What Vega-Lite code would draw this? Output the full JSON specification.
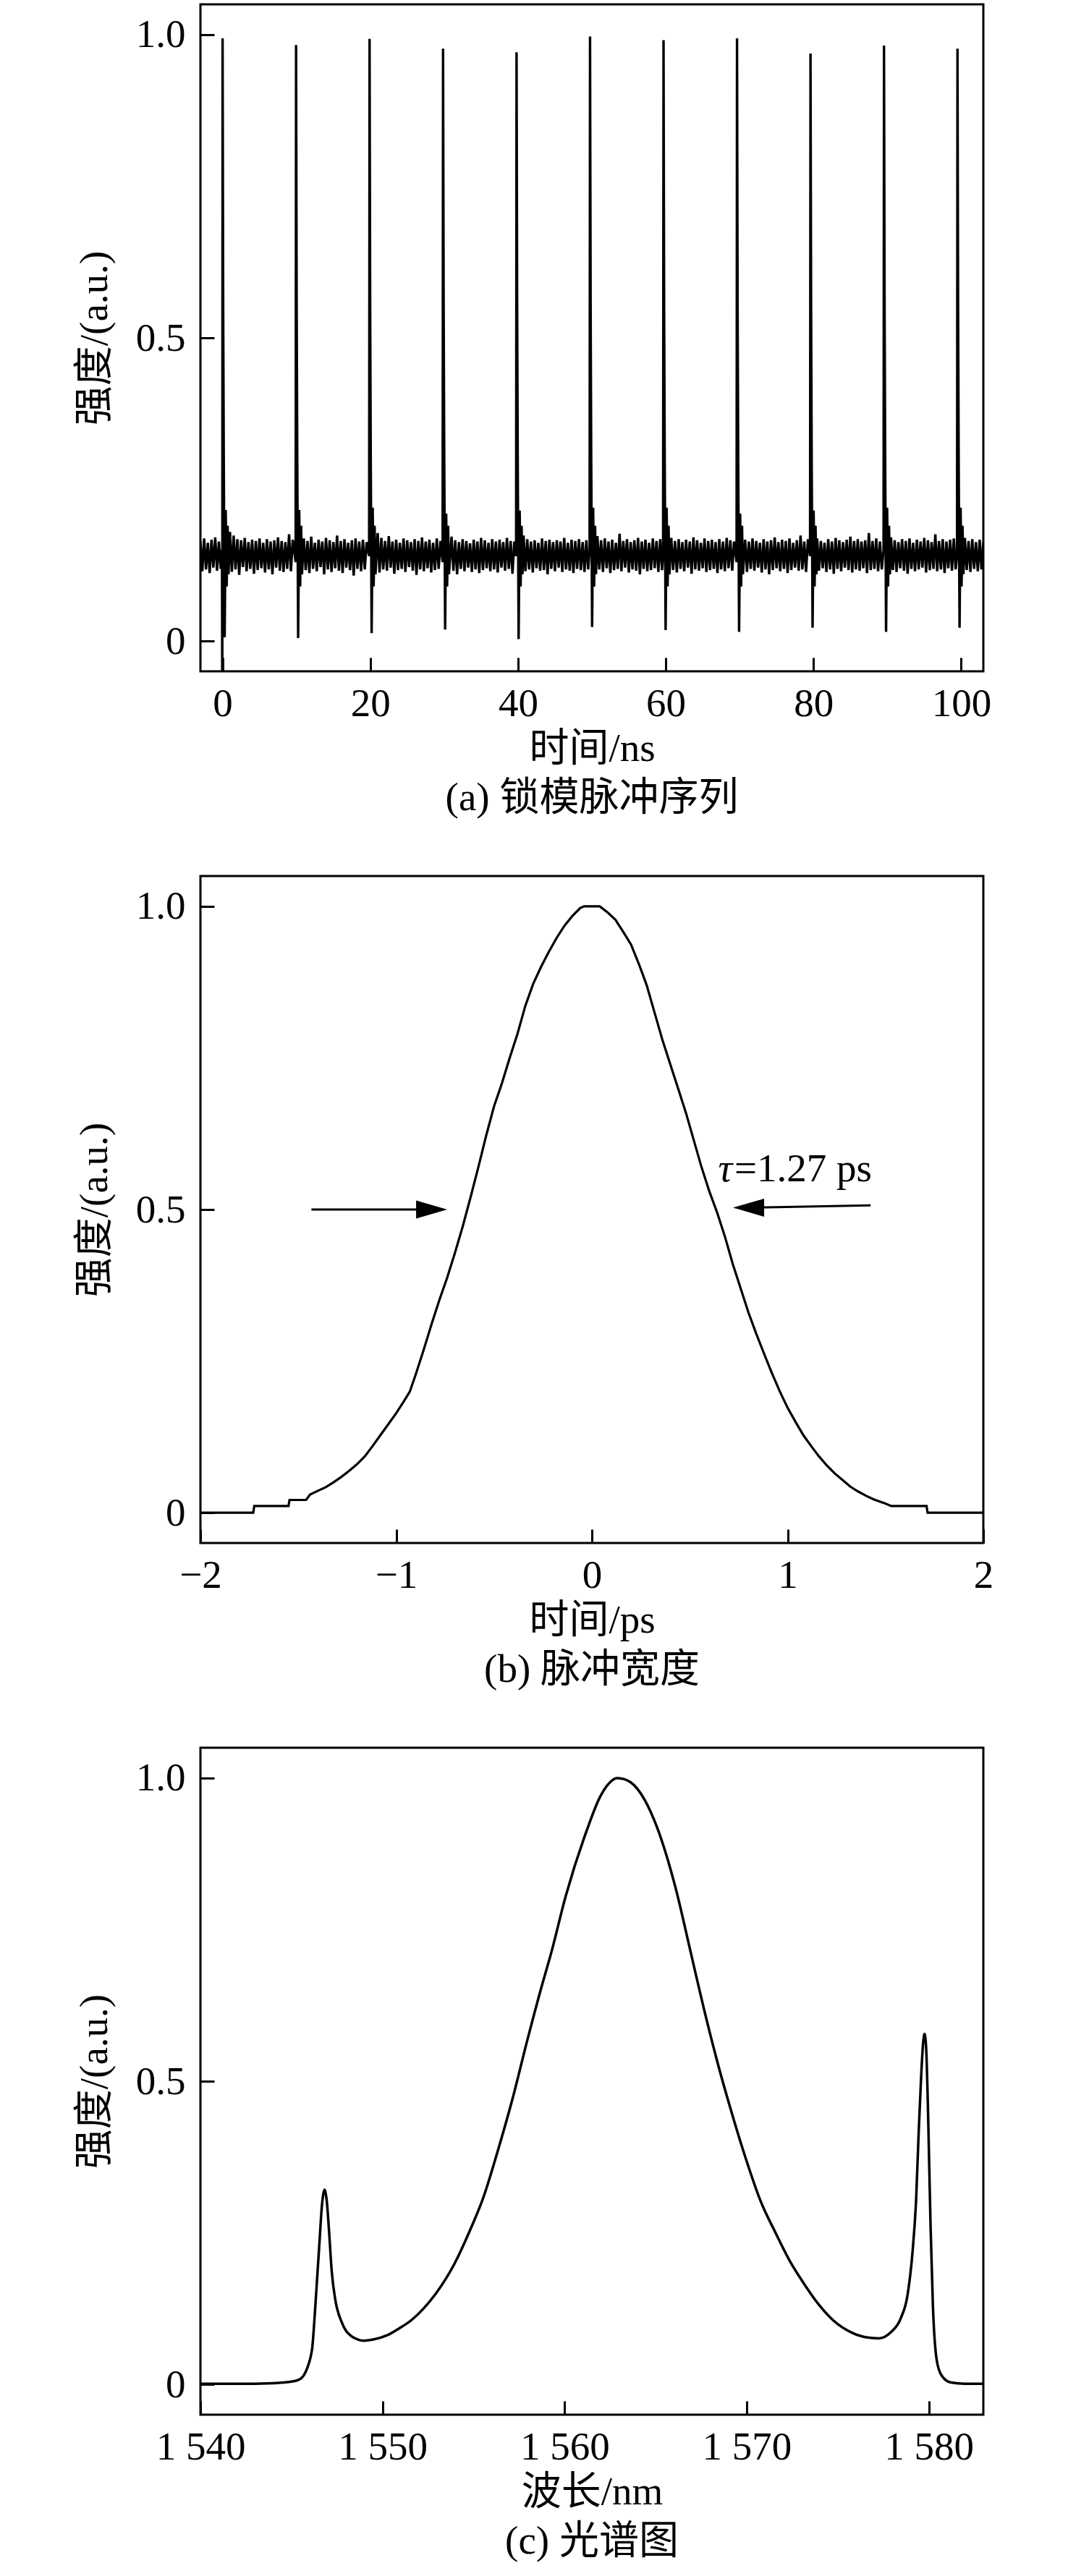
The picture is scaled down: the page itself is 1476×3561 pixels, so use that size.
{
  "$schema": "https://vega.github.io/schema/vega-lite/v6.json",
  "background": "white",
  "padding": {"left": 101, "top": 4, "right": 0, "bottom": 0},
  "spacing": 76,
  "config": {
    "font": "Liberation Serif, Noto Sans CJK SC",
    "view": {"stroke": "black", "strokeWidth": 3},
    "axis": {
      "grid": false, "domain": false,
      "tickColor": "black", "tickWidth": 3, "tickSize": -19,
      "labelFont": "Liberation Serif", "labelFontSize": 55, "labelColor": "black",
      "labelFlush": false, "labelOverlap": false,
      "titleFont": "Liberation Serif, Noto Sans CJK SC", "titleFontSize": 55,
      "titleFontWeight": "normal", "titleColor": "black"
    },
    "axisX": {"labelPadding": 37, "titlePadding": 8},
    "axisY": {"labelPadding": 40, "titlePadding": 28},
    "title": {"font": "Liberation Serif, Noto Sans CJK SC", "fontSize": 55, "fontWeight": "normal", "color": "black", "orient": "bottom", "offset": 15},
    "line": {"color": "black", "strokeWidth": 3.5}
  },
  "datasets": {
    "train": [
      {"t":-3,"v":0.165},{"t":-2.75,"v":0.115},{"t":-2.5,"v":0.169},{"t":-2.25,"v":0.118},{"t":-2,"v":0.162},{"t":-1.75,"v":0.112},{"t":-1.5,"v":0.167},{"t":-1.25,"v":0.121},{"t":-1,"v":0.171},{"t":-0.75,"v":0.116},{"t":-0.5,"v":0.164},{"t":-0.25,"v":0.119},
      {"t":-0.08,"v":0.15},{"t":-0.04,"v":-0.1},{"t":0,"v":0.994},{"t":0.08,"v":0.55},{"t":0.16,"v":0.3},{"t":0.28,"v":0.006},{"t":0.42,"v":0.216},{"t":0.55,"v":0.09},{"t":0.68,"v":0.19},{"t":0.8,"v":0.11},
      {"t":1,"v":0.18},{"t":1.25,"v":0.114},{"t":1.5,"v":0.174},{"t":1.75,"v":0.118},{"t":2,"v":0.168},{"t":2.25,"v":0.109},{"t":2.5,"v":0.166},{"t":2.75,"v":0.122},{"t":3,"v":0.17},{"t":3.25,"v":0.115},{"t":3.5,"v":0.163},{"t":3.75,"v":0.119},{"t":4,"v":0.167},{"t":4.25,"v":0.111},{"t":4.5,"v":0.165},{"t":4.75,"v":0.117},{"t":5,"v":0.169},{"t":5.25,"v":0.12},{"t":5.5,"v":0.162},{"t":5.75,"v":0.113},{"t":6,"v":0.168},{"t":6.25,"v":0.118},{"t":6.5,"v":0.164},{"t":6.75,"v":0.11},{"t":7,"v":0.166},{"t":7.25,"v":0.121},{"t":7.5,"v":0.171},{"t":7.75,"v":0.116},{"t":8,"v":0.165},{"t":8.25,"v":0.114},{"t":8.5,"v":0.163},{"t":8.75,"v":0.119},{"t":9,"v":0.176},{"t":9.25,"v":0.115},{"t":9.5,"v":0.167},
      {"t":9.89,"v":0.13},{"t":9.95,"v":0.983},{"t":10.03,"v":0.55},{"t":10.11,"v":0.3},{"t":10.23,"v":0.005},{"t":10.37,"v":0.216},{"t":10.5,"v":0.09},{"t":10.63,"v":0.19},{"t":10.75,"v":0.11},
      {"t":11,"v":0.169},{"t":11.25,"v":0.117},{"t":11.5,"v":0.165},{"t":11.75,"v":0.112},{"t":12,"v":0.172},{"t":12.25,"v":0.119},{"t":12.5,"v":0.162},{"t":12.75,"v":0.115},{"t":13,"v":0.167},{"t":13.25,"v":0.122},{"t":13.5,"v":0.164},{"t":13.75,"v":0.11},{"t":14,"v":0.17},{"t":14.25,"v":0.118},{"t":14.5,"v":0.166},{"t":14.75,"v":0.114},{"t":15,"v":0.163},{"t":15.25,"v":0.12},{"t":15.5,"v":0.174},{"t":15.75,"v":0.116},{"t":16,"v":0.165},{"t":16.25,"v":0.112},{"t":16.5,"v":0.168},{"t":16.75,"v":0.121},{"t":17,"v":0.162},{"t":17.25,"v":0.117},{"t":17.5,"v":0.166},{"t":17.75,"v":0.108},{"t":18,"v":0.169},{"t":18.25,"v":0.119},{"t":18.5,"v":0.164},{"t":18.75,"v":0.115},{"t":19,"v":0.167},{"t":19.25,"v":0.118},{"t":19.5,"v":0.163},
      {"t":19.84,"v":0.14},{"t":19.9,"v":0.993},{"t":19.98,"v":0.55},{"t":20.06,"v":0.3},{"t":20.18,"v":0.013},{"t":20.32,"v":0.22},{"t":20.45,"v":0.09},{"t":20.58,"v":0.19},{"t":20.7,"v":0.11},
      {"t":21,"v":0.178},{"t":21.25,"v":0.113},{"t":21.5,"v":0.17},{"t":21.75,"v":0.118},{"t":22,"v":0.165},{"t":22.25,"v":0.116},{"t":22.5,"v":0.173},{"t":22.75,"v":0.121},{"t":23,"v":0.164},{"t":23.25,"v":0.111},{"t":23.5,"v":0.167},{"t":23.75,"v":0.117},{"t":24,"v":0.162},{"t":24.25,"v":0.119},{"t":24.5,"v":0.169},{"t":24.75,"v":0.114},{"t":25,"v":0.166},{"t":25.25,"v":0.122},{"t":25.5,"v":0.163},{"t":25.75,"v":0.116},{"t":26,"v":0.168},{"t":26.25,"v":0.109},{"t":26.5,"v":0.165},{"t":26.75,"v":0.118},{"t":27,"v":0.171},{"t":27.25,"v":0.115},{"t":27.5,"v":0.164},{"t":27.75,"v":0.12},{"t":28,"v":0.167},{"t":28.25,"v":0.113},{"t":28.5,"v":0.162},{"t":28.75,"v":0.117},{"t":29,"v":0.169},{"t":29.25,"v":0.119},{"t":29.5,"v":0.165},
      {"t":29.79,"v":0.13},{"t":29.85,"v":0.977},{"t":29.93,"v":0.55},{"t":30.01,"v":0.3},{"t":30.13,"v":0.019},{"t":30.27,"v":0.21},{"t":30.4,"v":0.09},{"t":30.53,"v":0.19},{"t":30.65,"v":0.11},
      {"t":31,"v":0.172},{"t":31.25,"v":0.116},{"t":31.5,"v":0.166},{"t":31.75,"v":0.11},{"t":32,"v":0.163},{"t":32.25,"v":0.119},{"t":32.5,"v":0.168},{"t":32.75,"v":0.115},{"t":33,"v":0.165},{"t":33.25,"v":0.121},{"t":33.5,"v":0.161},{"t":33.75,"v":0.114},{"t":34,"v":0.167},{"t":34.25,"v":0.118},{"t":34.5,"v":0.164},{"t":34.75,"v":0.112},{"t":35,"v":0.17},{"t":35.25,"v":0.117},{"t":35.5,"v":0.166},{"t":35.75,"v":0.12},{"t":36,"v":0.162},{"t":36.25,"v":0.115},{"t":36.5,"v":0.168},{"t":36.75,"v":0.118},{"t":37,"v":0.164},{"t":37.25,"v":0.113},{"t":37.5,"v":0.167},{"t":37.75,"v":0.121},{"t":38,"v":0.163},{"t":38.25,"v":0.116},{"t":38.5,"v":0.17},{"t":38.75,"v":0.119},{"t":39,"v":0.165},{"t":39.25,"v":0.111},{"t":39.5,"v":0.164},
      {"t":39.74,"v":0.14},{"t":39.8,"v":0.971},{"t":39.88,"v":0.55},{"t":39.96,"v":0.3},{"t":40.08,"v":0.003},{"t":40.22,"v":0.215},{"t":40.35,"v":0.09},{"t":40.48,"v":0.19},{"t":40.6,"v":0.11},
      {"t":40.75,"v":0.174},{"t":41,"v":0.115},{"t":41.25,"v":0.168},{"t":41.5,"v":0.118},{"t":41.75,"v":0.164},{"t":42,"v":0.113},{"t":42.25,"v":0.166},{"t":42.5,"v":0.12},{"t":42.75,"v":0.162},{"t":43,"v":0.116},{"t":43.25,"v":0.169},{"t":43.5,"v":0.117},{"t":43.75,"v":0.165},{"t":44,"v":0.11},{"t":44.25,"v":0.167},{"t":44.5,"v":0.119},{"t":44.75,"v":0.163},{"t":45,"v":0.115},{"t":45.25,"v":0.166},{"t":45.5,"v":0.121},{"t":45.75,"v":0.164},{"t":46,"v":0.114},{"t":46.25,"v":0.17},{"t":46.5,"v":0.118},{"t":46.75,"v":0.162},{"t":47,"v":0.116},{"t":47.25,"v":0.167},{"t":47.5,"v":0.112},{"t":47.75,"v":0.165},{"t":48,"v":0.119},{"t":48.25,"v":0.168},{"t":48.5,"v":0.117},{"t":48.75,"v":0.163},{"t":49,"v":0.114},{"t":49.25,"v":0.166},{"t":49.5,"v":0.118},
      {"t":49.69,"v":0.15},{"t":49.75,"v":0.997},{"t":49.83,"v":0.55},{"t":49.91,"v":0.3},{"t":50.03,"v":0.023},{"t":50.17,"v":0.22},{"t":50.3,"v":0.09},{"t":50.43,"v":0.19},{"t":50.55,"v":0.11},
      {"t":50.75,"v":0.173},{"t":51,"v":0.118},{"t":51.25,"v":0.166},{"t":51.5,"v":0.114},{"t":51.75,"v":0.169},{"t":52,"v":0.12},{"t":52.25,"v":0.164},{"t":52.5,"v":0.112},{"t":52.75,"v":0.167},{"t":53,"v":0.117},{"t":53.25,"v":0.162},{"t":53.5,"v":0.119},{"t":53.75,"v":0.177},{"t":54,"v":0.115},{"t":54.25,"v":0.165},{"t":54.5,"v":0.121},{"t":54.75,"v":0.168},{"t":55,"v":0.113},{"t":55.25,"v":0.163},{"t":55.5,"v":0.118},{"t":55.75,"v":0.166},{"t":56,"v":0.116},{"t":56.25,"v":0.17},{"t":56.5,"v":0.11},{"t":56.75,"v":0.164},{"t":57,"v":0.119},{"t":57.25,"v":0.167},{"t":57.5,"v":0.115},{"t":57.75,"v":0.162},{"t":58,"v":0.117},{"t":58.25,"v":0.169},{"t":58.5,"v":0.12},{"t":58.75,"v":0.165},{"t":59,"v":0.114},{"t":59.25,"v":0.168},{"t":59.5,"v":0.117},
      {"t":59.64,"v":0.14},{"t":59.7,"v":0.991},{"t":59.78,"v":0.55},{"t":59.86,"v":0.3},{"t":59.98,"v":0.018},{"t":60.12,"v":0.22},{"t":60.25,"v":0.09},{"t":60.38,"v":0.19},{"t":60.5,"v":0.11},
      {"t":60.75,"v":0.17},{"t":61,"v":0.117},{"t":61.25,"v":0.165},{"t":61.5,"v":0.113},{"t":61.75,"v":0.168},{"t":62,"v":0.119},{"t":62.25,"v":0.163},{"t":62.5,"v":0.115},{"t":62.75,"v":0.167},{"t":63,"v":0.121},{"t":63.25,"v":0.164},{"t":63.5,"v":0.111},{"t":63.75,"v":0.171},{"t":64,"v":0.118},{"t":64.25,"v":0.166},{"t":64.5,"v":0.116},{"t":64.75,"v":0.162},{"t":65,"v":0.12},{"t":65.25,"v":0.169},{"t":65.5,"v":0.114},{"t":65.75,"v":0.165},{"t":66,"v":0.117},{"t":66.25,"v":0.167},{"t":66.5,"v":0.119},{"t":66.75,"v":0.163},{"t":67,"v":0.112},{"t":67.25,"v":0.168},{"t":67.5,"v":0.118},{"t":67.75,"v":0.164},{"t":68,"v":0.115},{"t":68.25,"v":0.17},{"t":68.5,"v":0.12},{"t":68.75,"v":0.166},{"t":69,"v":0.116},{"t":69.25,"v":0.164},
      {"t":69.59,"v":0.13},{"t":69.65,"v":0.994},{"t":69.73,"v":0.55},{"t":69.81,"v":0.3},{"t":69.93,"v":0.015},{"t":70.07,"v":0.21},{"t":70.2,"v":0.09},{"t":70.33,"v":0.19},{"t":70.45,"v":0.11},
      {"t":70.75,"v":0.167},{"t":71,"v":0.114},{"t":71.25,"v":0.164},{"t":71.5,"v":0.119},{"t":71.75,"v":0.169},{"t":72,"v":0.116},{"t":72.25,"v":0.165},{"t":72.5,"v":0.121},{"t":72.75,"v":0.162},{"t":73,"v":0.113},{"t":73.25,"v":0.168},{"t":73.5,"v":0.118},{"t":73.75,"v":0.164},{"t":74,"v":0.11},{"t":74.25,"v":0.166},{"t":74.5,"v":0.117},{"t":74.75,"v":0.171},{"t":75,"v":0.12},{"t":75.25,"v":0.163},{"t":75.5,"v":0.115},{"t":75.75,"v":0.167},{"t":76,"v":0.119},{"t":76.25,"v":0.165},{"t":76.5,"v":0.112},{"t":76.75,"v":0.169},{"t":77,"v":0.117},{"t":77.25,"v":0.162},{"t":77.5,"v":0.121},{"t":77.75,"v":0.166},{"t":78,"v":0.116},{"t":78.25,"v":0.174},{"t":78.5,"v":0.118},{"t":78.75,"v":0.164},{"t":79,"v":0.114},{"t":79.25,"v":0.168},
      {"t":79.54,"v":0.14},{"t":79.6,"v":0.969},{"t":79.68,"v":0.55},{"t":79.76,"v":0.3},{"t":79.88,"v":0.022},{"t":80.02,"v":0.215},{"t":80.15,"v":0.09},{"t":80.28,"v":0.19},{"t":80.4,"v":0.11},
      {"t":80.5,"v":0.169},{"t":80.75,"v":0.116},{"t":81,"v":0.165},{"t":81.25,"v":0.12},{"t":81.5,"v":0.162},{"t":81.75,"v":0.114},{"t":82,"v":0.168},{"t":82.25,"v":0.118},{"t":82.5,"v":0.164},{"t":82.75,"v":0.111},{"t":83,"v":0.17},{"t":83.25,"v":0.119},{"t":83.5,"v":0.166},{"t":83.75,"v":0.115},{"t":84,"v":0.163},{"t":84.25,"v":0.121},{"t":84.5,"v":0.167},{"t":84.75,"v":0.117},{"t":85,"v":0.172},{"t":85.25,"v":0.113},{"t":85.5,"v":0.165},{"t":85.75,"v":0.118},{"t":86,"v":0.168},{"t":86.25,"v":0.116},{"t":86.5,"v":0.164},{"t":86.75,"v":0.12},{"t":87,"v":0.166},{"t":87.25,"v":0.112},{"t":87.5,"v":0.178},{"t":87.75,"v":0.117},{"t":88,"v":0.165},{"t":88.25,"v":0.119},{"t":88.5,"v":0.169},{"t":88.75,"v":0.115},{"t":89,"v":0.164},{"t":89.25,"v":0.118},
      {"t":89.49,"v":0.15},{"t":89.55,"v":0.982},{"t":89.63,"v":0.55},{"t":89.71,"v":0.3},{"t":89.83,"v":0.015},{"t":89.97,"v":0.22},{"t":90.1,"v":0.09},{"t":90.23,"v":0.19},{"t":90.35,"v":0.11},
      {"t":90.5,"v":0.171},{"t":90.75,"v":0.117},{"t":91,"v":0.166},{"t":91.25,"v":0.114},{"t":91.5,"v":0.163},{"t":91.75,"v":0.12},{"t":92,"v":0.168},{"t":92.25,"v":0.116},{"t":92.5,"v":0.165},{"t":92.75,"v":0.111},{"t":93,"v":0.169},{"t":93.25,"v":0.119},{"t":93.5,"v":0.162},{"t":93.75,"v":0.115},{"t":94,"v":0.167},{"t":94.25,"v":0.118},{"t":94.5,"v":0.164},{"t":94.75,"v":0.121},{"t":95,"v":0.17},{"t":95.25,"v":0.113},{"t":95.5,"v":0.166},{"t":95.75,"v":0.117},{"t":96,"v":0.163},{"t":96.25,"v":0.119},{"t":96.5,"v":0.176},{"t":96.75,"v":0.115},{"t":97,"v":0.165},{"t":97.25,"v":0.118},{"t":97.5,"v":0.168},{"t":97.75,"v":0.112},{"t":98,"v":0.164},{"t":98.25,"v":0.12},{"t":98.5,"v":0.167},{"t":98.75,"v":0.116},{"t":99,"v":0.169},{"t":99.25,"v":0.118},
      {"t":99.44,"v":0.14},{"t":99.5,"v":0.977},{"t":99.58,"v":0.55},{"t":99.66,"v":0.3},{"t":99.78,"v":0.022},{"t":99.92,"v":0.22},{"t":100.05,"v":0.09},{"t":100.18,"v":0.19},{"t":100.3,"v":0.11},
      {"t":100.5,"v":0.17},{"t":100.75,"v":0.117},{"t":101,"v":0.165},{"t":101.25,"v":0.114},{"t":101.5,"v":0.168},{"t":101.75,"v":0.119},{"t":102,"v":0.163},{"t":102.25,"v":0.115},{"t":102.5,"v":0.167},{"t":102.75,"v":0.118},{"t":103,"v":0.164}
    ],
    "pulse": [
      {"t":-2,"v":0},{"t":-1.73,"v":0},{"t":-1.725,"v":0.011},{"t":-1.55,"v":0.011},{"t":-1.545,"v":0.021},{"t":-1.46,"v":0.021},{"t":-1.44,"v":0.03},{"t":-1.4,"v":0.036},{"t":-1.36,"v":0.042},{"t":-1.32,"v":0.05},{"t":-1.28,"v":0.059},{"t":-1.24,"v":0.069},{"t":-1.2,"v":0.08},{"t":-1.16,"v":0.093},{"t":-1.12,"v":0.11},{"t":-1.08,"v":0.128},{"t":-1.04,"v":0.146},{"t":-1,"v":0.164},{"t":-0.96,"v":0.184},{"t":-0.93,"v":0.2},{"t":-0.9,"v":0.228},{"t":-0.86,"v":0.268},{"t":-0.82,"v":0.31},{"t":-0.78,"v":0.35},{"t":-0.74,"v":0.387},{"t":-0.7,"v":0.428},{"t":-0.66,"v":0.472},{"t":-0.62,"v":0.52},{"t":-0.58,"v":0.57},{"t":-0.54,"v":0.622},{"t":-0.5,"v":0.67},{"t":-0.46,"v":0.708},{"t":-0.42,"v":0.75},{"t":-0.38,"v":0.79},{"t":-0.34,"v":0.836},{"t":-0.3,"v":0.872},{"t":-0.26,"v":0.9},{"t":-0.22,"v":0.925},{"t":-0.18,"v":0.948},{"t":-0.14,"v":0.968},{"t":-0.1,"v":0.984},{"t":-0.06,"v":0.997},{"t":-0.04,"v":1},{"t":0.04,"v":1},{"t":0.08,"v":0.99},{"t":0.12,"v":0.978},{"t":0.16,"v":0.958},{"t":0.2,"v":0.937},{"t":0.24,"v":0.905},{"t":0.28,"v":0.87},{"t":0.32,"v":0.825},{"t":0.36,"v":0.78},{"t":0.4,"v":0.74},{"t":0.44,"v":0.7},{"t":0.48,"v":0.66},{"t":0.52,"v":0.615},{"t":0.56,"v":0.57},{"t":0.6,"v":0.53},{"t":0.64,"v":0.495},{"t":0.68,"v":0.455},{"t":0.72,"v":0.41},{"t":0.76,"v":0.37},{"t":0.8,"v":0.33},{"t":0.84,"v":0.295},{"t":0.88,"v":0.262},{"t":0.92,"v":0.23},{"t":0.96,"v":0.2},{"t":1,"v":0.173},{"t":1.04,"v":0.15},{"t":1.08,"v":0.128},{"t":1.12,"v":0.11},{"t":1.16,"v":0.093},{"t":1.2,"v":0.078},{"t":1.24,"v":0.065},{"t":1.28,"v":0.054},{"t":1.32,"v":0.043},{"t":1.36,"v":0.035},{"t":1.4,"v":0.028},{"t":1.44,"v":0.022},{"t":1.5,"v":0.015},{"t":1.53,"v":0.011},{"t":1.71,"v":0.011},{"t":1.715,"v":0},{"t":2,"v":0}
    ],
    "spec": [
      {"w":1540,"v":0.001},{"w":1542,"v":0.001},{"w":1544,"v":0.002},{"w":1544.55,"v":0.003},{"w":1545.35,"v":0.007},{"w":1545.7,"v":0.016},{"w":1545.88,"v":0.028},{"w":1546.05,"v":0.045},{"w":1546.14,"v":0.06},{"w":1546.28,"v":0.115},{"w":1546.41,"v":0.175},{"w":1546.54,"v":0.235},{"w":1546.67,"v":0.294},{"w":1546.76,"v":0.316},{"w":1546.82,"v":0.321},{"w":1546.88,"v":0.315},{"w":1546.94,"v":0.302},{"w":1547.07,"v":0.25},{"w":1547.21,"v":0.187},{"w":1547.41,"v":0.139},{"w":1547.74,"v":0.104},{"w":1548,"v":0.088},{"w":1548.27,"v":0.08},{"w":1548.65,"v":0.074},{"w":1548.94,"v":0.072},{"w":1549.5,"v":0.074},{"w":1550.26,"v":0.081},{"w":1550.9,"v":0.092},{"w":1551.59,"v":0.106},{"w":1552.25,"v":0.125},{"w":1552.91,"v":0.149},{"w":1553.97,"v":0.2},{"w":1554.76,"v":0.251},{"w":1555.56,"v":0.31},{"w":1556.35,"v":0.387},{"w":1557.15,"v":0.472},{"w":1557.94,"v":0.566},{"w":1558.73,"v":0.655},{"w":1559.26,"v":0.711},{"w":1560.07,"v":0.806},{"w":1561.2,"v":0.912},{"w":1561.95,"v":0.969},{"w":1562.4,"v":0.99},{"w":1562.88,"v":1},{"w":1563.3,"v":0.998},{"w":1563.63,"v":0.993},{"w":1564.4,"v":0.964},{"w":1565.1,"v":0.917},{"w":1566.07,"v":0.822},{"w":1566.94,"v":0.711},{"w":1567.6,"v":0.626},{"w":1568.39,"v":0.532},{"w":1569.19,"v":0.447},{"w":1569.98,"v":0.37},{"w":1570.77,"v":0.302},{"w":1571.57,"v":0.251},{"w":1572.36,"v":0.204},{"w":1573.15,"v":0.166},{"w":1573.95,"v":0.132},{"w":1574.74,"v":0.106},{"w":1575.8,"v":0.085},{"w":1576.5,"v":0.078},{"w":1577.26,"v":0.076},{"w":1577.92,"v":0.086},{"w":1578.45,"v":0.108},{"w":1578.84,"v":0.148},{"w":1579.11,"v":0.218},{"w":1579.31,"v":0.306},{"w":1579.45,"v":0.417},{"w":1579.58,"v":0.505},{"w":1579.68,"v":0.558},{"w":1579.77,"v":0.578},{"w":1579.86,"v":0.554},{"w":1579.97,"v":0.44},{"w":1580.1,"v":0.262},{"w":1580.23,"v":0.13},{"w":1580.43,"v":0.042},{"w":1580.7,"v":0.015},{"w":1581.22,"v":0.003},{"w":1582,"v":0.001},{"w":1583,"v":0.001}
    ],
    "arrows": [
      {"x1":-1.433,"y1":0.5,"x2":-0.82,"y2":0.5},
      {"x1":1.424,"y1":0.507,"x2":0.8,"y2":0.503}
    ],
    "heads": [
      {"x":-0.739,"y":0.5,"dir":"right"},
      {"x":0.721,"y":0.503,"dir":"left"}
    ],
    "tau": [{"x":0.645,"y":0.546,"label":"τ"}],
    "value": [{"x":0.728,"y":0.546,"label":"=1.27 ps"}]
  },
  "vconcat": [
    {
      "width": 1082,
      "height": 922,
      "title": {"text": "(a) 锁模脉冲序列"},
      "data": {"name": "train"},
      "mark": {"type": "line", "clip": true, "strokeWidth": 3.4},
      "encoding": {
        "x": {"field": "t", "type": "quantitative", "scale": {"domain": [-3, 103], "nice": false, "zero": false},
              "axis": {"title": "时间/ns", "values": [0, 20, 40, 60, 80, 100]}},
        "y": {"field": "v", "type": "quantitative", "scale": {"domain": [-0.05, 1.05], "nice": false, "zero": false},
              "axis": {"title": "强度/(a.u.)", "values": [0, 0.5, 1], "labelExpr": "datum.value === 0 ? '0' : format(datum.value, '.1f')"}}
      }
    },
    {
      "width": 1082,
      "height": 922,
      "title": {"text": "(b) 脉冲宽度"},
      "layer": [
        {
          "data": {"name": "pulse"},
          "mark": {"type": "line", "clip": true, "strokeWidth": 3.2},
          "encoding": {
            "x": {"field": "t", "type": "quantitative", "scale": {"domain": [-2, 2], "nice": false, "zero": false},
                  "axis": {"title": "时间/ps", "values": [-2, -1, 0, 1, 2], "format": "d"}},
            "y": {"field": "v", "type": "quantitative", "scale": {"domain": [-0.05, 1.05], "nice": false, "zero": false},
                  "axis": {"title": "强度/(a.u.)", "values": [0, 0.5, 1], "labelExpr": "datum.value === 0 ? '0' : format(datum.value, '.1f')"}}
          }
        },
        {
          "data": {"name": "arrows"},
          "mark": {"type": "rule", "color": "black", "strokeWidth": 3},
          "encoding": {
            "x": {"field": "x1", "type": "quantitative"},
            "x2": {"field": "x2"},
            "y": {"field": "y1", "type": "quantitative"},
            "y2": {"field": "y2"}
          }
        },
        {
          "data": {"name": "heads"},
          "mark": {"type": "point", "filled": true, "color": "black", "opacity": 1, "size": 7400},
          "encoding": {
            "x": {"field": "x", "type": "quantitative"},
            "y": {"field": "y", "type": "quantitative"},
            "shape": {"field": "dir", "type": "nominal", "legend": null,
                      "scale": {"domain": ["right", "left"], "range": ["M0,0L-1,-0.29L-1,0.29Z", "M0,0L1,-0.29L1,0.29Z"]}}
          }
        },
        {
          "data": {"name": "tau"},
          "mark": {"type": "text", "font": "Liberation Serif", "fontSize": 55, "fontStyle": "italic", "align": "left", "baseline": "alphabetic", "color": "black"},
          "encoding": {
            "x": {"field": "x", "type": "quantitative"},
            "y": {"field": "y", "type": "quantitative"},
            "text": {"field": "label"}
          }
        },
        {
          "data": {"name": "value"},
          "mark": {"type": "text", "font": "Liberation Serif", "fontSize": 55, "align": "left", "baseline": "alphabetic", "color": "black"},
          "encoding": {
            "x": {"field": "x", "type": "quantitative"},
            "y": {"field": "y", "type": "quantitative"},
            "text": {"field": "label"}
          }
        }
      ]
    },
    {
      "width": 1082,
      "height": 922,
      "title": {"text": "(c) 光谱图"},
      "data": {"name": "spec"},
      "mark": {"type": "line", "clip": true, "strokeWidth": 3.5, "interpolate": "monotone"},
      "encoding": {
        "x": {"field": "w", "type": "quantitative", "scale": {"domain": [1540, 1583], "nice": false, "zero": false},
              "axis": {"title": "波长/nm", "values": [1540, 1550, 1560, 1570, 1580], "labelExpr": "replace(format(datum.value, ','), ',', ' ')"}},
        "y": {"field": "v", "type": "quantitative", "scale": {"domain": [-0.05, 1.05], "nice": false, "zero": false},
              "axis": {"title": "强度/(a.u.)", "values": [0, 0.5, 1], "labelExpr": "datum.value === 0 ? '0' : format(datum.value, '.1f')"}}
      }
    }
  ]
}
